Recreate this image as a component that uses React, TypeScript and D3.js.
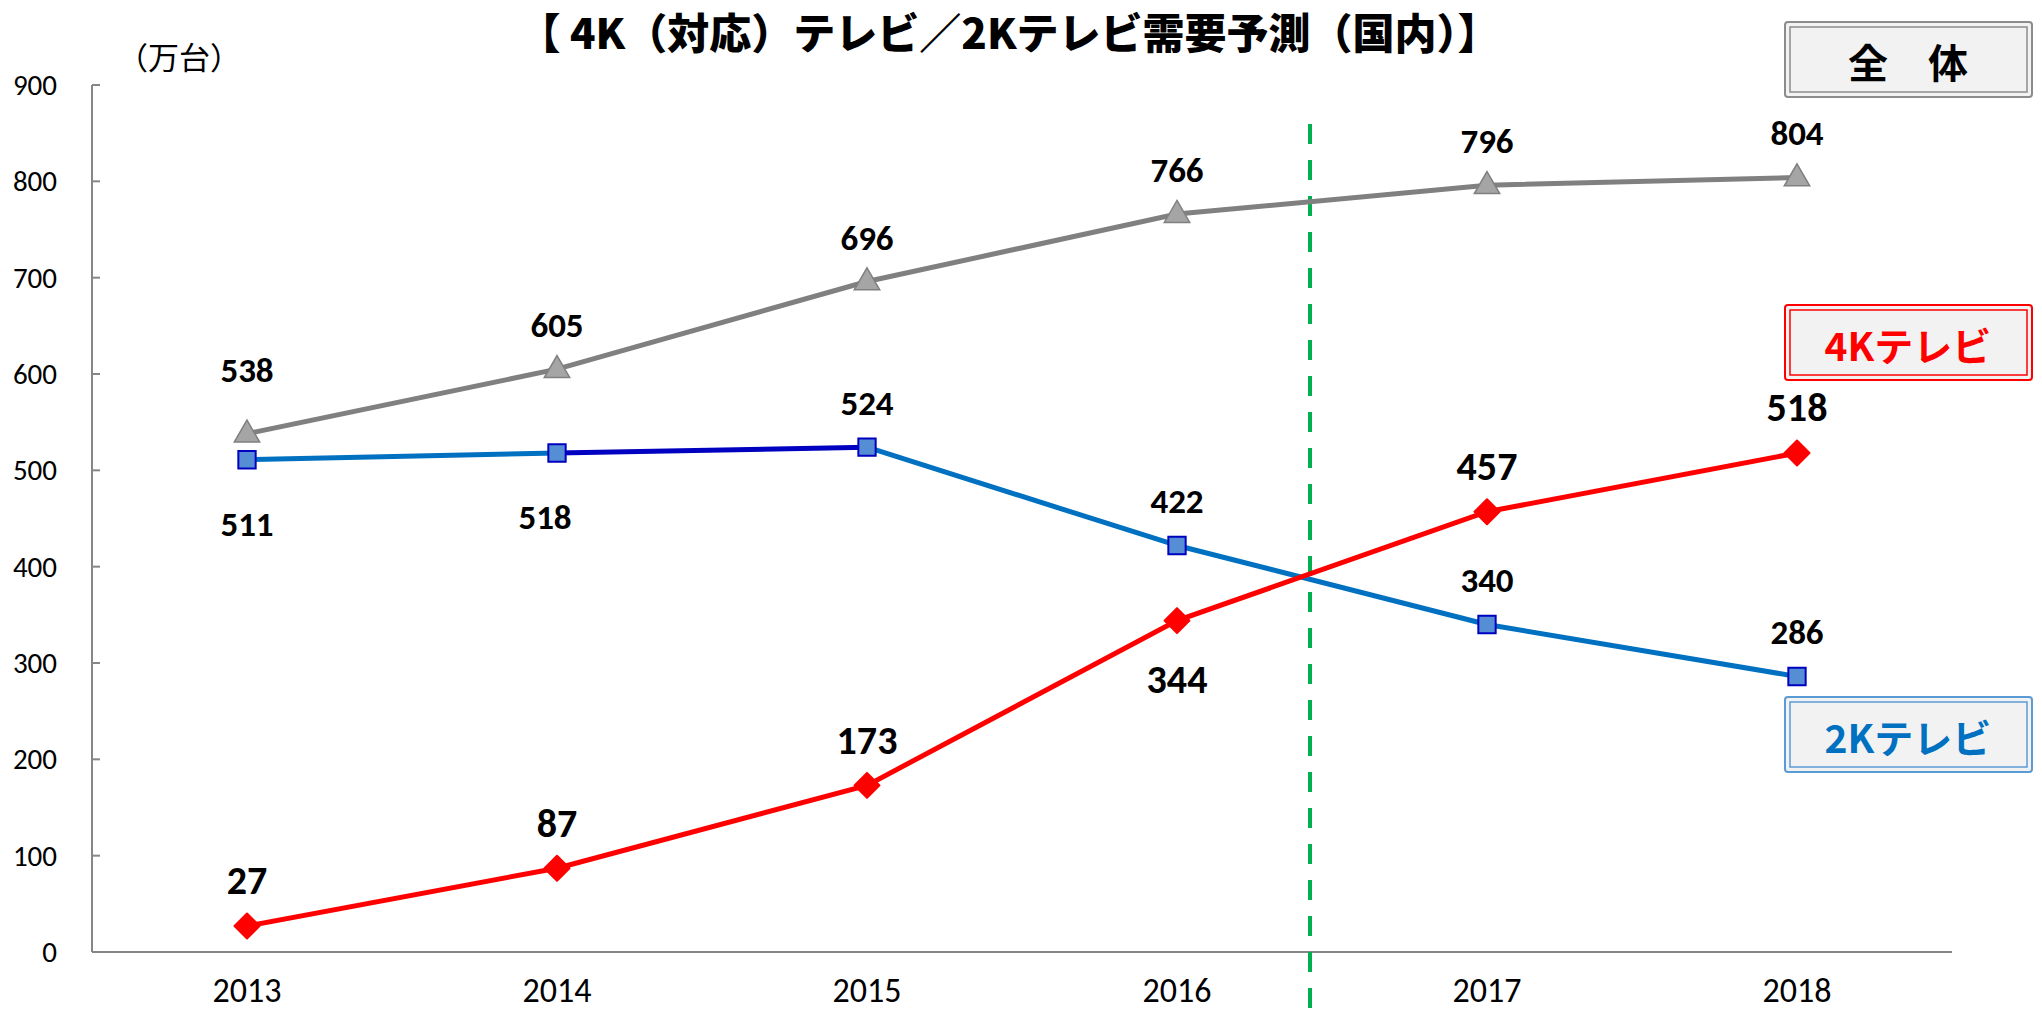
import React from "react";
import * as d3 from "d3";

const years = ["2013", "2014", "2015", "2016", "2017", "2018"];
const totalValues = [538, 605, 696, 766, 796, 804];
const k2Values = [511, 518, 524, 422, 340, 286];
const k4Values = [27, 87, 173, 344, 457, 518];
const yTicks = [0, 100, 200, 300, 400, 500, 600, 700, 800, 900];
const titleText = "【 4K（対応）テレビ／2Kテレビ需要予測（国内）】";
const unitText = "（万台）";
const legendTotal = "全　体";
const legend4K = "4Kテレビ";
const legend2K = "2Kテレビ";
// label placement: "a" above, "b" below, "A" far above
const totalPlace = ["A", "a", "a", "a", "a", "a"];
const k2Place = ["b", "b", "a", "a", "a", "a"];
const k4Place = ["a", "a", "a", "b", "a", "a"];

const W = 2042, H = 1014;
const left = 92, right = 1952, top = 85, bottom = 952;
const numFont = "Carlito, 'Liberation Sans Narrow', 'DejaVu Sans Condensed', sans-serif";
const jpFont = "'Noto Sans CJK JP', sans-serif";

export default function App() {
  const x = d3.scaleBand<string>().domain(years).range([left, right]);
  const y = d3.scaleLinear().domain([0, 900]).range([bottom, top]);
  const cx = (i: number) => (x(years[i]) as number) + x.bandwidth() / 2;
  const line = d3.line<number>().x((_, i) => cx(i)).y((d) => y(d));
  const dy = (p: string) => (p === "A" ? -64 : p === "a" ? -44 : 64);

  const tri = d3.symbol().type(d3.symbolTriangle).size(280)();
  const sq = d3.symbol().type(d3.symbolSquare).size(300)();
  const dia = "M0,-12.5L12.5,0L0,12.5L-12.5,0Z";

  const k2Color = (i: number) => (i === 1 ? "#0000c0" : "#0070c0");

  const legendBox = (yTop: number, outer: string, inner: string, text: string, color: string, fs: number) => (
    <g>
      <rect x={1785} y={yTop} width={247} height={75} rx={3} fill="#f2f2f2" stroke={outer} strokeWidth={2} />
      <rect x={1790} y={yTop + 5} width={237} height={65} fill="none" stroke={inner} strokeWidth={1.5} />
      <text x={1908} y={yTop + 39} textAnchor="middle" dominantBaseline="central" fontFamily={jpFont} fontWeight={700} fontSize={fs} fill={color}>{text}</text>
    </g>
  );

  return (
    <svg width={W} height={H} style={{ position: "absolute", left: 0, top: 0 }} xmlns="http://www.w3.org/2000/svg">
      <rect width={W} height={H} fill="#ffffff" />
      <text x={1009} y={30} textAnchor="middle" dominantBaseline="central" fontFamily={jpFont} fontWeight={900} fontSize={42} fill="#000">{titleText}</text>
      <text x={179} y={55} textAnchor="middle" dominantBaseline="central" fontFamily={jpFont} fontSize={31} fill="#000">{unitText}</text>

      {/* axes */}
      <line x1={left} x2={left} y1={top} y2={bottom} stroke="#868686" strokeWidth={2} />
      <line x1={left} x2={right} y1={bottom} y2={bottom} stroke="#868686" strokeWidth={2} />
      {yTicks.map((t) => (
        <g key={t}>
          <line x1={left} x2={left + 8} y1={y(t)} y2={y(t)} stroke="#868686" strokeWidth={2} />
          <text x={57} y={y(t)} textAnchor="end" dominantBaseline="central" fontFamily={numFont} fontSize={29} fill="#000">{t}</text>
        </g>
      ))}
      {years.map((yr, i) => (
        <text key={yr} x={cx(i)} y={990} textAnchor="middle" dominantBaseline="central" fontFamily={numFont} fontSize={34} fill="#000">{yr}</text>
      ))}

      {/* forecast divider */}
      <line x1={1310} x2={1310} y1={124} y2={H} stroke="#00b050" strokeWidth={4} strokeDasharray="20,16" />

      {/* total line */}
      <path d={line(totalValues) || ""} fill="none" stroke="#808080" strokeWidth={5} />
      {/* 2K line, segment by segment */}
      {k2Values.slice(1).map((v, i) => (
        <line key={i} x1={cx(i)} y1={y(k2Values[i])} x2={cx(i + 1)} y2={y(v)} stroke={k2Color(i)} strokeWidth={5} />
      ))}
      {/* 4K line */}
      <path d={line(k4Values) || ""} fill="none" stroke="#ff0000" strokeWidth={5} />

      {totalValues.map((v, i) => (
        <path key={"t" + i} d={tri || ""} transform={`translate(${cx(i)},${y(v) + 1})`} fill="#a5a5a5" stroke="#808080" strokeWidth={1.5} />
      ))}
      {k2Values.map((v, i) => (
        <path key={"s" + i} d={sq || ""} transform={`translate(${cx(i)},${y(v)})`} fill="#558ed5" stroke="#0000c0" strokeWidth={2} />
      ))}
      {k4Values.map((v, i) => (
        <path key={"d" + i} d={dia} transform={`translate(${cx(i)},${y(v)})`} fill="#ff0000" stroke="#ff0000" strokeWidth={2} strokeLinejoin="round" />
      ))}

      {totalValues.map((v, i) => (
        <text key={"tl" + i} x={cx(i)} y={y(v) + dy(totalPlace[i])} textAnchor="middle" dominantBaseline="central" fontFamily={numFont} fontWeight={700} fontSize={35} fill="#000">{v}</text>
      ))}
      {k2Values.map((v, i) => (
        <text key={"sl" + i} x={cx(i) - (i === 1 ? 12 : 0)} y={y(v) + dy(k2Place[i])} textAnchor="middle" dominantBaseline="central" fontFamily={numFont} fontWeight={700} fontSize={35} fill="#000">{v}</text>
      ))}
      {k4Values.map((v, i) => (
        <text key={"dl" + i} x={cx(i)} y={y(v) + (k4Place[i] === "b" ? 59 : -45)} textAnchor="middle" dominantBaseline="central" fontFamily={numFont} fontWeight={700} fontSize={40} fill="#000">{v}</text>
      ))}

      {legendBox(22, "#8c8c8c", "#8c8c8c", legendTotal, "#000", 40)}
      {legendBox(305, "#ff0000", "#ff0000", legend4K, "#ff0000", 39)}
      {legendBox(697, "#5b9bd5", "#5b9bd5", legend2K, "#0070c0", 39)}
    </svg>
  );
}
